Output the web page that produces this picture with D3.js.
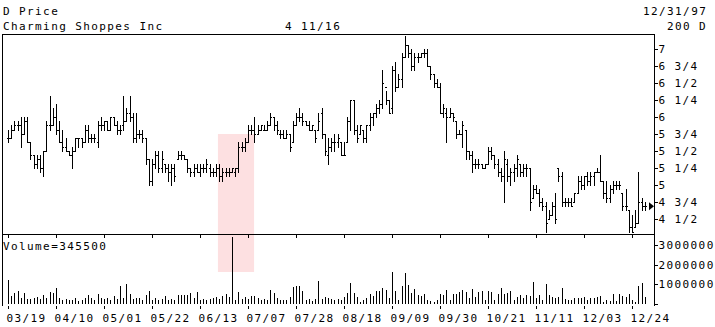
<!DOCTYPE html>
<html><head><meta charset="utf-8">
<script src="https://cdn.jsdelivr.net/npm/d3@7"></script>
<style>
html,body{margin:0;padding:0;background:#fff;}
svg text{font-family:"DejaVu Sans Mono",monospace;font-size:11px;letter-spacing:1.4px;fill:#000;}
</style></head>
<body>
<svg id="c" width="715" height="327"></svg>
<script>
const high = [5.81,5.88,5.94,5.94,6.00,6.00,6.00,5.63,5.44,5.44,5.44,5.50,5.94,6.31,6.13,6.19,5.94,5.81,5.69,5.50,
5.56,5.69,5.69,5.69,5.88,5.88,5.75,5.75,5.94,6.00,5.94,5.94,6.00,6.00,5.94,5.88,6.31,6.13,6.31,6.06,
6.06,5.81,5.81,5.69,5.38,5.38,5.50,5.50,5.50,5.31,5.31,5.31,5.31,5.50,5.50,5.44,5.38,5.25,5.31,5.31,
5.31,5.31,5.38,5.31,5.25,5.31,5.31,5.25,5.25,5.25,5.25,5.25,5.63,5.63,5.69,5.88,5.88,6.00,5.88,5.88,
5.88,5.94,6.06,6.00,5.94,5.81,5.81,5.81,5.75,5.94,6.06,6.13,6.06,5.94,5.94,5.88,5.81,6.06,6.13,5.75,
5.69,5.69,5.75,5.75,5.63,5.63,6.00,6.25,6.25,5.88,5.88,5.81,5.88,6.06,6.06,6.19,6.25,6.69,6.38,6.25,
6.75,6.81,6.63,6.94,7.19,7.06,7.00,6.94,6.94,6.94,7.00,7.00,6.75,6.63,6.56,6.50,6.19,6.13,6.13,6.06,
5.94,5.81,5.94,5.81,5.50,5.50,5.38,5.38,5.31,5.31,5.56,5.56,5.44,5.38,5.25,5.50,5.38,5.25,5.31,5.44,
5.31,5.31,5.31,5.25,5.00,5.00,4.94,4.81,4.75,4.63,4.75,4.88,5.25,5.19,4.81,4.81,4.81,4.88,5.13,5.13,
5.13,5.19,5.19,5.19,5.25,5.44,5.06,5.06,5.00,5.06,5.06,5.06,4.88,4.94,4.63,4.56,4.63,5.19,4.81,4.75];
const low = [5.63,5.69,5.81,5.81,5.56,5.75,5.63,5.38,5.25,5.25,5.19,5.13,5.50,5.81,5.88,5.75,5.63,5.50,5.50,5.44,
5.25,5.50,5.56,5.56,5.63,5.63,5.63,5.63,5.56,5.81,5.81,5.81,5.81,5.88,5.75,5.75,5.81,5.94,5.94,5.63,
5.63,5.69,5.63,5.31,5.00,5.00,5.25,5.19,5.19,5.19,5.06,5.00,5.06,5.38,5.38,5.38,5.19,5.13,5.13,5.19,
5.13,5.19,5.19,5.13,5.13,5.13,5.06,5.06,5.13,5.13,5.19,5.13,5.19,5.50,5.50,5.63,5.75,5.63,5.75,5.81,
5.81,5.81,5.88,5.81,5.75,5.69,5.69,5.69,5.50,5.63,5.88,5.94,5.88,5.88,5.81,5.81,5.63,5.81,5.69,5.44,
5.31,5.50,5.50,5.56,5.44,5.44,5.63,5.81,5.75,5.63,5.75,5.63,5.63,5.81,5.88,6.00,6.06,6.13,6.19,6.06,
6.06,6.38,6.44,6.44,6.88,6.88,6.69,6.69,6.81,6.88,6.88,6.75,6.56,6.44,6.44,6.06,6.00,5.63,6.00,5.94,
5.69,5.75,5.56,5.38,5.38,5.19,5.25,5.25,5.25,5.25,5.31,5.38,5.25,5.13,5.06,4.75,5.06,5.00,5.06,5.13,
5.13,5.13,5.13,4.63,4.81,4.88,4.69,4.63,4.31,4.50,4.56,4.44,5.06,4.69,4.69,4.69,4.69,4.75,4.88,4.94,
4.94,5.00,5.00,5.00,5.19,5.06,4.81,4.75,4.75,4.88,4.94,4.94,4.63,4.63,4.31,4.31,4.38,4.44,4.63,4.63];
const open = [5.69,5.69,5.81,5.88,5.88,5.75,5.94,5.63,5.44,5.31,5.38,5.25,5.50,5.88,5.88,6.00,5.81,5.63,5.56,5.50,
5.44,5.50,5.69,5.69,5.63,5.81,5.69,5.69,5.63,5.88,5.88,5.94,5.81,6.00,5.88,5.81,5.88,5.94,6.06,6.00,
5.69,5.75,5.75,5.69,5.38,5.06,5.31,5.44,5.25,5.31,5.25,5.19,5.25,5.38,5.44,5.44,5.38,5.25,5.19,5.25,
5.19,5.25,5.25,5.25,5.19,5.19,5.25,5.13,5.19,5.19,5.19,5.19,5.25,5.56,5.56,5.63,5.81,5.81,5.75,5.81,
5.81,5.81,5.88,6.00,5.88,5.75,5.75,5.69,5.75,5.63,5.88,6.00,6.00,5.94,5.88,5.81,5.81,5.81,6.06,5.75,
5.44,5.56,5.63,5.63,5.63,5.44,5.63,5.94,6.25,5.81,5.75,5.81,5.69,5.88,6.00,6.06,6.13,6.19,6.44,6.25,
6.13,6.69,6.44,6.56,6.88,7.06,6.94,6.75,6.88,6.88,6.94,6.94,6.75,6.63,6.50,6.44,6.06,6.06,6.00,6.06,
5.94,5.75,5.75,5.81,5.50,5.44,5.31,5.31,5.31,5.25,5.31,5.50,5.44,5.31,5.19,5.13,5.31,5.13,5.19,5.25,
5.31,5.19,5.25,5.25,4.81,4.94,4.88,4.75,4.69,4.50,4.56,4.69,5.25,5.13,4.75,4.75,4.75,4.75,4.88,5.06,
5.00,5.13,5.06,5.13,5.19,5.19,5.06,4.88,4.81,4.94,5.00,5.00,4.88,4.69,4.63,4.38,4.38,4.44,4.75,4.69];
const close = [5.69,5.81,5.88,5.88,5.75,5.94,5.63,5.44,5.31,5.38,5.25,5.50,5.88,5.88,6.00,5.81,5.63,5.56,5.50,5.44,
5.50,5.69,5.69,5.63,5.81,5.69,5.69,5.69,5.88,5.88,5.94,5.81,6.00,5.88,5.81,5.81,5.94,6.06,6.00,5.69,
5.75,5.75,5.69,5.38,5.06,5.31,5.44,5.25,5.38,5.25,5.19,5.25,5.13,5.44,5.44,5.38,5.25,5.19,5.25,5.19,
5.25,5.25,5.31,5.19,5.19,5.25,5.13,5.19,5.19,5.19,5.25,5.25,5.56,5.56,5.63,5.81,5.81,5.75,5.81,5.88,
5.81,5.88,6.00,5.88,5.81,5.75,5.69,5.75,5.56,5.88,6.00,6.00,5.94,5.88,5.81,5.88,5.69,5.94,5.75,5.50,
5.56,5.63,5.63,5.69,5.44,5.44,5.94,6.25,5.81,5.69,5.88,5.69,5.88,6.00,6.06,6.13,6.19,6.50,6.25,6.06,
6.69,6.44,6.56,6.88,7.06,6.94,6.75,6.88,6.88,6.94,6.94,6.75,6.63,6.50,6.44,6.06,6.13,6.00,6.06,6.00,
5.75,5.75,5.88,5.50,5.44,5.31,5.31,5.31,5.25,5.31,5.50,5.44,5.31,5.19,5.13,5.38,5.13,5.19,5.25,5.38,
5.19,5.25,5.25,4.75,4.94,4.88,4.75,4.69,4.44,4.56,4.69,4.50,5.13,4.75,4.75,4.75,4.69,4.88,5.06,5.00,
5.13,5.06,5.13,5.19,5.19,5.06,4.88,4.81,4.94,5.00,5.00,5.00,4.69,4.69,4.38,4.31,4.44,4.75,4.69,4.6875];
const volume = [1230000,380000,560000,620000,300000,560000,220000,250000,280000,330000,230000,420000,280000,600000,520000,780000,260000,200000,230000,200000,
190000,260000,120000,180000,300000,420000,260000,200000,480000,300000,220000,260000,170000,380000,250000,900000,300000,1000000,480000,220000,
300000,280000,160000,420000,620000,200000,260000,200000,230000,380000,180000,250000,170000,450000,440000,420000,430000,520000,260000,600000,
200000,230000,190000,210000,260000,330000,220000,380000,480000,320000,3420000,200000,600000,250000,320000,220000,380000,400000,300000,180000,
250000,180000,700000,520000,280000,180000,200000,180000,350000,860000,920000,880000,640000,200000,230000,120000,220000,1140000,220000,350000,
300000,220000,170000,250000,180000,350000,560000,1060000,520000,340000,90000,170000,260000,480000,380000,630000,630000,800000,680000,260000,
1620000,630000,170000,900000,1570000,940000,550000,740000,430000,380000,470000,170000,140000,90000,170000,510000,430000,680000,170000,480000,
510000,600000,680000,600000,260000,740000,340000,600000,620000,170000,650000,600000,170000,510000,820000,510000,560000,650000,170000,340000,
430000,260000,430000,400000,1080000,260000,430000,170000,1000000,430000,340000,260000,340000,800000,220000,170000,200000,260000,290000,300000,
340000,170000,260000,260000,340000,380000,100000,170000,150000,510000,150000,510000,400000,340000,510000,170000,90000,900000,1060000,345500];
const dateLabels = ["03/19","04/10","05/01","05/22","06/13","07/07","07/28","08/18","09/09","09/30","10/21","11/11","12/03","12/24"];
const dateTickIndex = [0,15,30,45,60,75,90,105,120,135,150,165,180,195];
const priceTicks = [4.5,4.75,5,5.25,5.5,5.75,6,6.25,6.5,6.75,7];
const priceTickLabels = ["4 1/2","4 3/4","5","5 1/4","5 1/2","5 3/4","6","6 1/4","6 1/2","6 3/4","7"];
const volumeTicks = [0,1000000,2000000,3000000];
const volumeTickLabels = ["","1000000","2000000","3000000"];
const highlightRange = [65.6, 76.9];

const svg = d3.select("#c");
const L = 2.5, R = 654.5, T = 34.5, MID = 234.5, B = 305.5;
const x = d3.scaleLinear().domain([0, 199]).range([8, 644.8]);
const y = d3.scaleLinear().domain([4.5, 7]).range([219, 49]);
const yv = d3.scaleLinear().domain([0, 3000000]).range([303.5, 245]);
const px = i => Math.round(x(i)) + 0.5;

// highlight
svg.append("rect").attr("x", x(highlightRange[0])).attr("y", 134)
  .attr("width", x(highlightRange[1]) - x(highlightRange[0])).attr("height", 272 - 134)
  .attr("fill", "#fde0e1");

// frames
const g = svg.append("g").attr("stroke", "#000").attr("stroke-width", 1).attr("fill", "none").attr("shape-rendering", "crispEdges");
g.append("path").attr("d", `M${L},${B}V${T}H${R}V${B}`);
g.append("path").attr("d", `M${L},${MID}H${R}`);

// price bars
const bars = svg.append("g").attr("stroke", "#000").attr("stroke-width", 1).attr("shape-rendering", "crispEdges");
d3.range(200).forEach(i => {
  const xi = px(i);
  const yh = Math.round(y(high[i])), yl = Math.round(y(low[i]));
  bars.append("line").attr("x1", xi).attr("x2", xi).attr("y1", yh).attr("y2", Math.max(yl, yh + 1) + 0.5);
  const yo = Math.round(y(open[i])) + 0.5, yc = Math.round(y(close[i])) + 0.5;
  bars.append("line").attr("x1", xi - 1.5).attr("x2", xi).attr("y1", yo).attr("y2", yo);
  bars.append("line").attr("x1", xi).attr("x2", xi + 1.5).attr("y1", yc).attr("y2", yc);
});

// volume bars
svg.append("g").attr("stroke", "#000").attr("shape-rendering", "crispEdges")
  .selectAll("line").data(volume).join("line")
  .attr("x1", (d, i) => px(i)).attr("x2", (d, i) => px(i))
  .attr("y1", yv(0)).attr("y2", d => yv(d));

// last price arrow
const ly = y(close[199]);
svg.append("path").attr("d", `M649,${ly - 4}L654,${ly}L649,${ly + 4}Z`).attr("fill", "#000");

// right price axis
const pa = svg.append("g").attr("transform", `translate(${R},0)`)
  .call(d3.axisRight(y).tickValues(priceTicks).tickSize(3).tickPadding(1)
    .tickFormat((d, i) => priceTickLabels[i]));
const va = svg.append("g").attr("transform", `translate(${R},0)`)
  .call(d3.axisRight(yv).tickValues(volumeTicks).tickSize(3).tickPadding(1)
    .tickFormat((d, i) => volumeTickLabels[i]));
[pa, va].forEach(a => {
  a.select(".domain").remove();
  a.selectAll("line").attr("stroke", "#000").attr("shape-rendering", "crispEdges");
  a.selectAll("text").attr("font-family", null).attr("font-size", null).attr("dy", "0.36em");
});

// date axes
const xd = d3.scaleLinear().domain([0, 199]).range([8, 644.8]);
const da = svg.append("g").attr("transform", `translate(0,${B})`)
  .call(d3.axisBottom(xd).tickValues(dateTickIndex).tickSize(3).tickPadding(6)
    .tickFormat((d, i) => dateLabels[i]));
const dm = svg.append("g").attr("transform", `translate(0,${MID})`)
  .call(d3.axisBottom(xd).tickValues(dateTickIndex).tickSize(3).tickFormat(""));
[da, dm].forEach(a => {
  a.select(".domain").remove();
  a.selectAll("line").attr("stroke", "#000").attr("shape-rendering", "crispEdges");
  a.selectAll(".tick").attr("transform", d => `translate(${Math.round(xd(d)) + 0.5},0)`);
  a.selectAll("text").attr("font-family", null).attr("font-size", null).attr("text-anchor", "start").attr("x", -2).attr("dy", "0.71em");
});

// titles
svg.append("text").attr("x", 3).attr("y", 15).text("D Price");
svg.append("text").attr("x", 3).attr("y", 29.5).text("Charming Shoppes Inc");
svg.append("text").attr("x", 285).attr("y", 29.5).text("4 11/16");
svg.append("text").attr("x", 643).attr("y", 15).text("12/31/97");
svg.append("text").attr("x", 667).attr("y", 29.5).text("200 D");
svg.append("text").attr("x", 3).attr("y", 249.5).text("Volume=" + volume[199]);
</script>
</body></html>
